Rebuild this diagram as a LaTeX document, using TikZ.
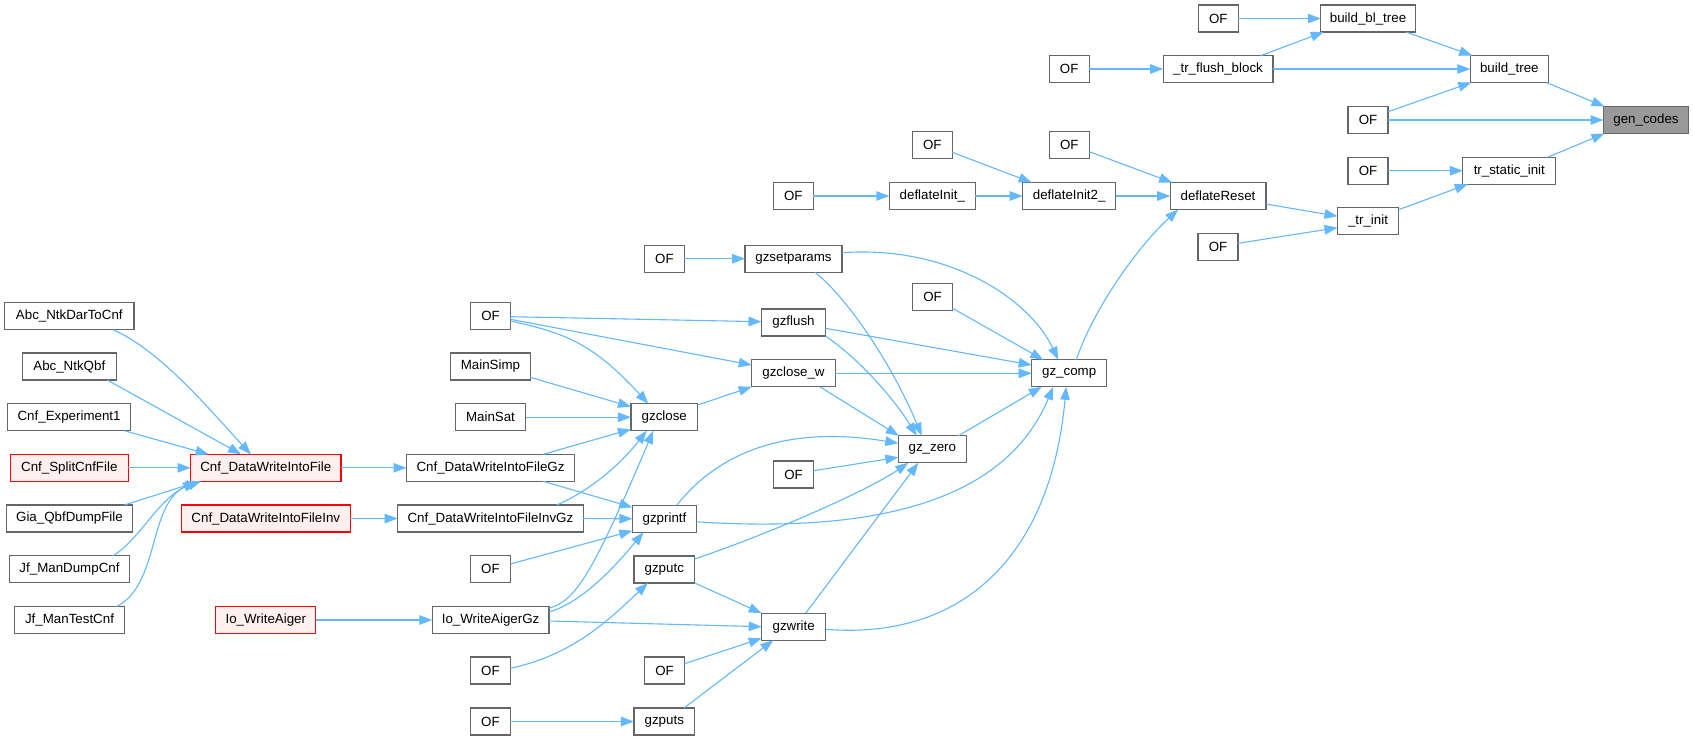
\documentclass[tikz,border=0pt]{standalone}
\usepackage{fontspec}
\setmainfont{Liberation Sans}
\usetikzlibrary{arrows.meta,calc}
\definecolor{edgeblue}{HTML}{63B8FF}
\definecolor{nodeborder}{HTML}{666666}
\definecolor{hlgray}{HTML}{999999}
\definecolor{redfill}{HTML}{FFF0F0}
\tikzset{
  fn/.style={draw=nodeborder, line width=1.3pt, fill=white, minimum height=27pt, inner sep=0pt, outer sep=0pt, font=\fontsize{13.33}{16}\selectfont},
  hl/.style={fn, fill=hlgray},
  rd/.style={fn, draw=red, fill=redfill},
  ed/.style={draw=edgeblue, line width=1.1pt, -{Triangle[length=13pt,width=9.5pt]}},
}
\begin{document}
\begin{tikzpicture}[x=1pt,y=-1pt]
\fill[white] (0,0) rectangle (1693,740);
\useasboundingbox (0,0) rectangle (1693,740);
% rank 0..4 (top right)
\node[fn, minimum width=40pt] (ofbl) at (1218.3,18.5) {OF};
\node[fn, minimum width=94.5pt] (bbl) at (1368,18.5) {build\_bl\_tree};
\node[fn, minimum width=40pt] (oftf) at (1069.2,69) {OF};
\node[fn, minimum width=109.7pt] (tfb) at (1218,69) {\_tr\_flush\_block};
\node[fn, minimum width=78pt] (bt) at (1509.3,69) {build\_tree};
\node[fn, minimum width=40pt] (ofgen) at (1368,120) {OF};
\node[hl, minimum width=85pt] (gen) at (1646,120) {gen\_codes};
\node[fn, minimum width=40pt] (ofa) at (932.3,145.3) {OF};
\node[fn, minimum width=40pt] (ofb) at (1069.3,145.3) {OF};
\node[fn, minimum width=40pt] (ofts) at (1368,170.7) {OF};
\node[fn, minimum width=93pt] (tsi) at (1509.3,170.7) {tr\_static\_init};
\node[fn, minimum width=40pt] (ofc) at (793.3,196) {OF};
\node[fn, minimum width=86pt] (di) at (932.3,196) {deflateInit\_};
\node[fn, minimum width=93pt] (di2) at (1069.2,196) {deflateInit2\_};
\node[fn, minimum width=95.7pt] (dr) at (1218,196) {deflateReset};
\node[fn, minimum width=61pt] (tri) at (1368,221.2) {\_tr\_init};
\node[fn, minimum width=40pt] (ofti) at (1218,246.7) {OF};
% middle
\node[fn, minimum width=40pt] (ofgzs) at (664.4,258.7) {OF};
\node[fn, minimum width=97pt] (gzs) at (793.5,258.7) {gzsetparams};
\node[fn, minimum width=40pt] (ofgzc) at (932.5,297.2) {OF};
\node[fn, minimum width=40pt] (oftop) at (490.5,316) {OF};
\node[fn, minimum width=64pt] (gzf) at (793.5,322.5) {gzflush};
\node[fn, minimum width=83.5pt] (gzcw) at (793.5,373.3) {gzclose\_w};
\node[fn, minimum width=75pt] (gzc) at (1069.2,373.3) {gz\_comp};
\node[fn, minimum width=79.6pt] (msimp) at (490.4,366.5) {MainSimp};
\node[fn, minimum width=70pt] (msat) at (490.5,417.2) {MainSat};
\node[fn, minimum width=66.7pt] (gzcl) at (664.3,417.2) {gzclose};
\node[fn, minimum width=68pt] (gzz) at (932.3,449.3) {gz\_zero};
\node[fn, minimum width=168pt] (cgz) at (490.5,467.8) {Cnf\_DataWriteIntoFileGz};
\node[fn, minimum width=40pt] (ofgzz) at (793.5,474.5) {OF};
\node[fn, minimum width=185.6pt] (cinvgz) at (490.4,518.5) {Cnf\_DataWriteIntoFileInvGz};
\node[fn, minimum width=64.4pt] (gzp) at (664.5,518.8) {gzprintf};
\node[fn, minimum width=40pt] (ofp) at (490.4,569.2) {OF};
\node[fn, minimum width=60.7pt] (gzpc) at (664.3,569.5) {gzputc};
\node[fn, minimum width=116.7pt] (iogz) at (490.6,620) {Io\_WriteAigerGz};
\node[fn, minimum width=64pt] (gzw) at (793.7,626.7) {gzwrite};
\node[fn, minimum width=40pt] (ofio) at (490.4,670.5) {OF};
\node[fn, minimum width=40pt] (ofw) at (664.5,670.5) {OF};
\node[fn, minimum width=40pt] (ofps) at (490.4,721.5) {OF};
\node[fn, minimum width=60.7pt] (gzps) at (664.3,721.5) {gzputs};
% left
\node[rd, minimum width=150.4pt] (cdwf) at (265.8,467.8) {Cnf\_DataWriteIntoFile};
\node[rd, minimum width=168.8pt] (cdwfi) at (265.8,518.5) {Cnf\_DataWriteIntoFileInv};
\node[rd, minimum width=100pt] (iow) at (265.8,620) {Io\_WriteAiger};
\node[fn, minimum width=129.4pt] (abc1) at (69.3,316.2) {Abc\_NtkDarToCnf};
\node[fn, minimum width=94pt] (abc2) at (69.3,366.5) {Abc\_NtkQbf};
\node[fn, minimum width=122.8pt] (cexp) at (69.1,417.2) {Cnf\_Experiment1};
\node[rd, minimum width=118pt] (csplit) at (69.3,467.8) {Cnf\_SplitCnfFile};
\node[fn, minimum width=126pt] (gia) at (69.5,518.5) {Gia\_QbfDumpFile};
\node[fn, minimum width=120.5pt] (jfd) at (69.5,569.2) {Jf\_ManDumpCnf};
\node[fn, minimum width=110.6pt] (jft) at (69.5,620) {Jf\_ManTestCnf};
% edges top right
\draw[ed] (ofbl.east) -- (bbl.west);
\draw[ed] ($(tfb)+(43,-13.5)$) -- ($(bbl.south west)+(3,0)$);
\draw[ed] (tfb.east) -- (bt.west);
\draw[ed] ($(bbl)+(38,13.5)$) -- ($(bt.north west)+(2,0)$);
\draw[ed] (oftf.east) -- (tfb.west);
\draw[ed] ($(ofgen.east)+(0,-8.3)$) -- ($(bt.south west)+(1,0)$);
\draw[ed] (ofgen.east) -- (gen.west);
\draw[ed] ($(bt.south east)+(-2,0)$) -- ($(gen.north west)+(1,0)$);
\draw[ed] ($(tsi.north east)+(-8,0)$) -- ($(gen.south west)+(1,0)$);
\draw[ed] (ofts.east) -- (tsi.west);
\draw[ed] ($(tri.north east)+(0,2)$) -- ($(tsi.south west)+(5,0)$);
\draw[ed] ($(dr.east)+(0,8)$) -- ($(tri.west)+(0,-5)$);
\draw[ed] ($(ofti.east)+(0,-3.4)$) -- ($(tri.west)+(0,6.5)$);
\draw[ed] ($(ofb.east)+(0,6.4)$) -- ($(dr.north west)+(2,0)$);
\draw[ed] (di2.east) -- (dr.west);
\draw[ed] ($(gzc.north)+(7,0)$) .. controls +(19,-55) and +(-38,35) .. ($(dr.south west)+(8,0)$);
\draw[ed] ($(ofa.east)+(0,7)$) -- ($(di2.north west)+(9,0)$);
\draw[ed] (di.east) -- (di2.west);
\draw[ed] (ofc.east) -- (di.west);
% middle edges
\draw[ed] (ofgzs.east) -- (gzs.west);
\draw[ed] ($(gzs.east)+(0,-6)$) .. controls +(108,-7.7) and +(-28,-60) .. ($(gzc.north)+(-11,0)$);
\draw[ed] ($(gzs.south)+(21.5,0)$) .. controls +(35,28) and +(-27,-66) .. ($(gzz.north)+(-10.6,0)$);
\draw[ed] ($(ofgzc.east)+(0,11)$) -- ($(gzc.north west)+(11.6,0)$);
\draw[ed] ($(gzf.east)+(0,5.8)$) -- ($(gzc.west)+(0,-8.3)$);
\draw[ed] (gzf.south east) .. controls +(35,24) and +(-22,-36) .. ($(gzz.north)+(-15.6,0)$);
\draw[ed] (gzcw.east) -- (gzc.west);
\draw[ed] ($(gzcw.south)+(26.5,0)$) -- ($(gzz.north west)+(0.5,0)$);
\draw[ed] ($(gzz.north)+(26,0)$) -- ($(gzc.south)+(-27.5,0)$);
\draw[ed] ($(oftop.east)+(0,0.7)$) -- ($(gzf.west)+(0,-0.8)$);
\draw[ed] ($(oftop.east)+(0,3.3)$) -- ($(gzcw.west)+(0,-8.3)$);
\draw[ed] ($(oftop.east)+(0,5)$) .. controls +(55,12) and +(-55,-60) .. ($(gzcl.north)+(-16,0)$);
\draw[ed] ($(msimp.east)+(0,10.8)$) -- ($(gzcl.west)+(0,-10.5)$);
\draw[ed] (msat.east) -- (gzcl.west);
\draw[ed] ($(gzcl.east)+(0,-12.2)$) -- (gzcw.south west);
\draw[ed] ($(cgz.north)+(52.8,0)$) -- ($(gzcl.west)+(0,12)$);
\draw[ed] ($(cgz.south)+(52.8,0)$) -- ($(gzp.west)+(0,-11.5)$);
\draw[ed] ($(cinvgz.north)+(66.3,0)$) .. controls +(35,-15) and +(-25,32) .. ($(gzcl.south)+(-17.6,0)$);
\draw[ed] (cinvgz.east) -- (gzp.west);
\draw[ed] ($(ofp.east)+(0,-5.2)$) -- ($(gzp.west)+(0,12)$);
\draw[ed] ($(iogz.east)+(0,-11.7)$) .. controls +(26,-8) and +(-63.3,149.3) .. ($(gzcl.south)+(-11,0)$);
\draw[ed] ($(iogz.east)+(0,-8)$) .. controls +(35,-10) and +(-25,30) .. ($(gzp.south)+(-21,0)$);
\draw[ed] ($(iogz.east)+(0,1)$) -- (gzw.west);
\draw[ed] ($(gzp.north)+(12.2,0)$) .. controls +(43.3,-55) and +(-108,-18) .. ($(gzz.west)+(0,-6)$);
\draw[ed] ($(gzp.east)+(0,3)$) .. controls +(203.3,13.2) and +(-43.2,103.2) .. ($(gzc.south)+(-16,0)$);
\draw[ed] ($(ofgzz.east)+(0,-3.8)$) -- ($(gzz.west)+(0,8)$);
\draw[ed] ($(gzpc.east)+(0,-10.5)$) .. controls +(85,-29) and +(-38,26) .. ($(gzz.south)+(-24,0)$);
\draw[ed] (gzpc.south east) -- (gzw.north west);
\draw[ed] ($(ofio.east)+(0,-2.2)$) .. controls +(60,-13) and +(-43,41) .. ($(gzpc.south)+(-16.5,0)$);
\draw[ed] ($(gzw.north)+(12,0)$) -- ($(gzz.south)+(-14,0)$);
\draw[ed] ($(gzw.east)+(0,2.6)$) .. controls +(134,10.7) and +(-16,173) .. ($(gzc.south)+(-3,0)$);
\draw[ed] ($(ofw.east)+(0,-6.8)$) -- ($(gzw.west)+(0,11.6)$);
\draw[ed] ($(gzps.north)+(19.7,0)$) -- ($(gzw.south)+(-20.4,0)$);
\draw[ed] (ofps.east) -- (gzps.west);
% left edges
\draw[ed] (cdwf.east) -- (cgz.west);
\draw[ed] (cdwfi.east) -- (cinvgz.west);
\draw[ed] (iow.east) -- (iogz.west);
\draw[ed] ($(abc1.south)+(43.7,0)$) .. controls +(47,20.3) and +(-40.8,-44.3) .. ($(cdwf.north)+(-15,0)$);
\draw[ed] ($(abc2.south)+(38,0)$) -- ($(cdwf.north)+(-24.7,0)$);
\draw[ed] ($(cexp.south)+(55.3,0)$) -- ($(cdwf.north west)+(18,0)$);
\draw[ed] (csplit.east) -- (cdwf.west);
\draw[ed] ($(gia.north)+(55,0)$) -- ($(cdwf.south west)+(8.4,0)$);
\draw[ed] ($(jfd.north)+(43.4,0)$) .. controls +(27.1,-15.7) and +(-41,13.7) .. ($(cdwf.south west)+(10.4,0)$);
\draw[ed] ($(jft.north)+(47.2,0)$) .. controls +(43,-22) and +(-48,23.7) .. ($(cdwf.south west)+(5.4,0)$);
\end{tikzpicture}
\end{document}
